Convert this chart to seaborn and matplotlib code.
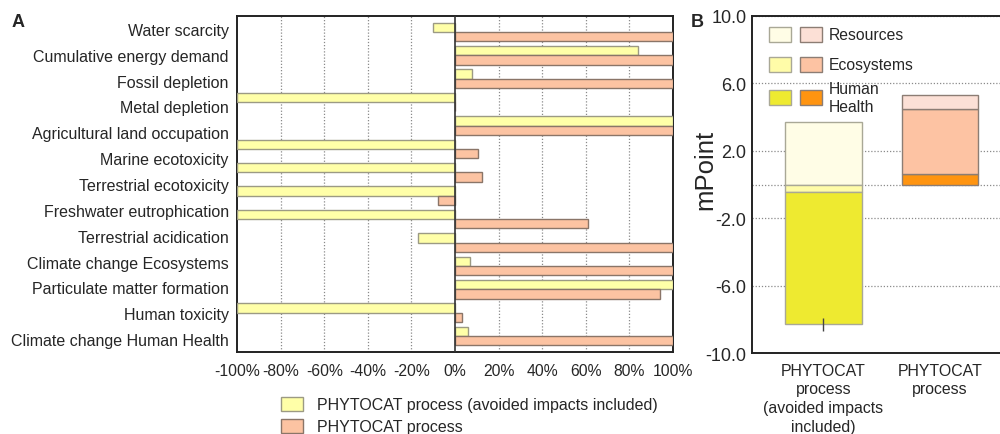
import numpy as np
import pandas as pd
import matplotlib
matplotlib.use("Agg")
import matplotlib.pyplot as plt
from matplotlib.patches import Patch, Rectangle
import seaborn as sns

# ---------------- data ----------------
# Panel A: 14 bar rows (top to bottom), relative impact in %
impact_rows = ["Water scarcity", "Cumulative energy demand", "Fossil depletion",
               "Metal depletion", "Agricultural land occupation", "Marine ecotoxicity",
               "Freshwater ecotoxicity", "Terrestrial ecotoxicity",
               "Freshwater eutrophication", "Terrestrial acidification",
               "Climate change Ecosystems", "Particulate matter formation",
               "Human toxicity", "Climate change Human Health"]
avoided_pct = [-10, 84, 8, -100, 100, -100, -100, -100, -100, -17, 7, 100, -100, 6]
process_pct = [100, 100, 100, 0, 100, 10.5, 12.4, -8, 61, 100, 100, 94, 3, 100]
series_names = ["PHYTOCAT process (avoided impacts included)", "PHYTOCAT process"]

# tick labels shown on panel A (as printed)
a_labels = ["Water scarcity", "Cumulative energy demand", "Fossil depletion",
            "Metal depletion", "Agricultural land occupation", "Marine ecotoxicity",
            "Terrestrial ecotoxicity", "Freshwater eutrophication",
            "Terrestrial acidication", "Climate change Ecosystems",
            "Particulate matter formation", "Human toxicity",
            "Climate change Human Health"]
a_xticks = [-100, -80, -60, -40, -20, 0, 20, 40, 60, 80, 100]

# Panel B: mPoint per damage category
b_categories = ["PHYTOCAT\nprocess\n(avoided impacts\nincluded)", "PHYTOCAT\nprocess"]
damage_names = ["Resources", "Ecosystems", "Human\nHealth"]
b_avoided = {"Resources": 3.7, "Ecosystems": -0.45, "Human\nHealth": -7.85}
b_process = {"Resources": 0.8, "Ecosystems": 3.9, "Human\nHealth": 0.6}
b_stack_order = [["Resources", "Ecosystems", "Human\nHealth"],
                 ["Human\nHealth", "Ecosystems", "Resources"]]
b_total_err = [0.4, None]          # small error bar on the first total
b_yticks = [-10, -6, -2, 2, 6, 10]

# ---------------- style ----------------
sns.set_theme(style="white")
plt.rcParams["font.family"] = ["Liberation Sans", "DejaVu Sans"]

yellow = "#FFFFA8"
peach = "#FCC3A2"
yellow_edge = "#9C9A84"
peach_edge = "#8A7568"

av_cols = {"Resources": "#FFFDE6", "Ecosystems": "#FFFCA8", "Human\nHealth": "#EEEA30"}
pr_cols = {"Resources": "#FCE0D6", "Ecosystems": "#FDC3A3", "Human\nHealth": "#FF9410"}
av_edge = "#A9A896"
pr_edge = "#8C7D74"

W, H = 1000, 435
fig = plt.figure(figsize=(10, 4.35), dpi=100)

# ---------------- panel A ----------------
axA = fig.add_axes([0.237, 0.1885, 0.436, 0.7724])
df = pd.DataFrame({
    "impact": impact_rows * 2,
    "series": [series_names[0]] * len(impact_rows) + [series_names[1]] * len(impact_rows),
    "value": avoided_pct + process_pct,
})
sns.barplot(data=df, x="value", y="impact", hue="series", order=impact_rows,
            hue_order=series_names, palette=[yellow, peach], orient="h",
            saturation=1, errorbar=None, legend=False, ax=axA,
            linewidth=1.0, zorder=3)
for cont, ec in zip(axA.containers, [yellow_edge, peach_edge]):
    for p in cont:
        p.set_edgecolor(ec)
        p.set_linewidth(1.0)

lo, hi = -0.68, 13.68
axA.set_ylim(hi, lo)
axA.set_xlim(-100, 100)
pos = [lo + (k + 0.5) * (hi - lo) / len(a_labels) for k in range(len(a_labels))]
axA.set_yticks(pos)
axA.set_yticklabels(a_labels, fontsize=11.5)
axA.set_xticks(a_xticks)
axA.set_xticklabels([f"{v}%" for v in a_xticks], fontsize=11.3)
axA.tick_params(axis="y", length=0, pad=6)
axA.tick_params(axis="x", length=4, width=1, direction="out", color="#333333", pad=4)
axA.set_xlabel("")
axA.set_ylabel("")
for v in a_xticks[1:-1]:
    if v != 0:
        axA.axvline(v, color="#8a8a8a", lw=0.9, ls=(0, (1, 1.5)), zorder=1)
axA.axvline(0, color="#333333", lw=1.2, zorder=4)
for s in axA.spines.values():
    s.set_color("#222222")
    s.set_linewidth(1.4)
    s.set_visible(True)

handlesA = [Patch(facecolor=yellow, edgecolor=yellow_edge, lw=1),
            Patch(facecolor=peach, edgecolor=peach_edge, lw=1)]
fig.legend(handlesA, series_names, loc="upper left", bbox_to_anchor=(0.281, 0.086),
           frameon=False, fontsize=11.5, handlelength=1.4, handleheight=1.0,
           handletextpad=0.85, labelspacing=0.4, borderpad=0, borderaxespad=0)

fig.text(0.012, 0.937, "A", fontsize=13, fontweight="bold")
fig.text(0.691, 0.937, "B", fontsize=13, fontweight="bold")

# ---------------- panel B ----------------
axB_box = [0.752, 0.186, 0.25, 0.775]
axB = fig.add_axes(axB_box)
xpos = np.arange(len(b_categories))
bw = 0.655
for i, (vals, cols, ec) in enumerate([(b_avoided, av_cols, av_edge),
                                      (b_process, pr_cols, pr_edge)]):
    pos_base, neg_base = 0.0, 0.0
    for name in b_stack_order[i]:
        v = vals[name]
        base = pos_base if v >= 0 else neg_base
        axB.bar(xpos[i], v, bw, bottom=base, color=cols[name],
                edgecolor=ec, linewidth=1.0, zorder=3)
        if v >= 0:
            pos_base += v
        else:
            neg_base += v
    if b_total_err[i] is not None:
        axB.errorbar(xpos[i], neg_base, yerr=b_total_err[i], color="#444444",
                     lw=1.0, capsize=0, zorder=4)

axB.set_ylim(-10, 10)
axB.set_xlim(-0.612, 1.53)
axB.set_yticks(b_yticks)
axB.set_yticklabels([f"{v:.1f}" for v in b_yticks], fontsize=13)
axB.set_xticks(xpos)
axB.set_xticklabels(b_categories, fontsize=11.4, linespacing=1.3)
axB.tick_params(axis="y", length=3, width=1, direction="out", pad=1, color="#222222")
axB.tick_params(axis="x", length=0, pad=7)
axB.yaxis.grid(True, color="#8a8a8a", lw=0.9, ls=(0, (1, 1.5)), zorder=0)
axB.axhline(0, color="#8a8a8a", lw=0.9, ls=(0, (1, 1.5)), zorder=0)
axB.set_axisbelow(True)
axB.set_ylabel("mPoint", fontsize=18.5)
axB.yaxis.set_label_coords(-0.14, 0.546)
for k, s in axB.spines.items():
    s.set_color("#222222")
    s.set_linewidth(1.4)
axB.spines["right"].set_visible(False)

# manual two-column legend for panel B (pixel layout converted to axes fraction)
axL, axT = axB_box[0] * W, (1 - axB_box[1] - axB_box[3]) * H
axW, axH = axB_box[2] * W, axB_box[3] * H


def px2ax(x, y):
    return (x - axL) / axW, 1 - (y - axT) / axH


row_tops = [28, 58, 91]
row_text_y = [35.5, 66, 99]
for name, top, ty in zip(damage_names, row_tops, row_text_y):
    for x0, cols, ec in [(769, av_cols, av_edge), (800, pr_cols, pr_edge)]:
        ax0, ay0 = px2ax(x0, top + 15)
        axB.add_patch(Rectangle((ax0, ay0), 22 / axW, 15 / axH, transform=axB.transAxes,
                                facecolor=cols[name], edgecolor=ec, lw=1.0,
                                clip_on=False, zorder=5))
    tx, tyy = px2ax(829, ty)
    axB.text(tx, tyy, name, transform=axB.transAxes, fontsize=11.3, ha="left",
             va="center", linespacing=1.25, zorder=5)

fig.savefig("out.png", dpi=100)
